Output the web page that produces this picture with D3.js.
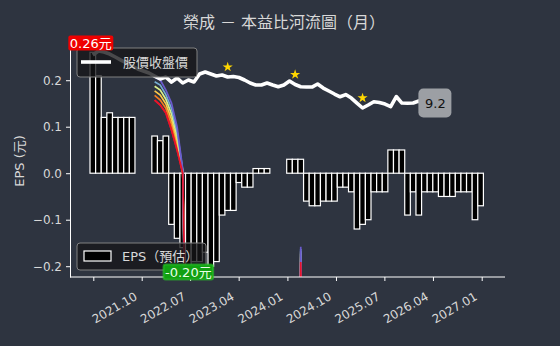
<!DOCTYPE html>
<html><head><meta charset="utf-8">
<script src="https://cdn.jsdelivr.net/npm/d3@7"></script>
<style>html,body{margin:0;padding:0;background:#2e3440;} svg{display:block}</style>
</head><body><svg id="c" width="560" height="346" lang="zh-TW"></svg>
<script>
// ---------- data ----------
const title = "榮成 － 本益比河流圖（月）";
const epsLabel = "EPS (元)";
const legendPrice = "股價收盤價";
const legendEps = "EPS（預估）";
const eps = [0.26,0.21,0.12,0.13,0.12,0.12,0.12,0.12,0,0,
             0,0.08,0.07,0.08,-0.11,-0.14,-0.16,-0.20,-0.19,-0.19,
             -0.17,-0.20,-0.19,-0.09,-0.08,-0.08,-0.02,-0.03,-0.03,0.01,
             0.01,0.01,0,0,0,0.03,0.03,0.03,-0.06,-0.07,
             -0.07,-0.06,-0.06,-0.06,-0.03,-0.03,-0.04,-0.12,-0.11,-0.10,
             -0.04,-0.04,-0.04,0.05,0.05,0.05,-0.09,-0.04,-0.09,-0.04,
             -0.04,-0.04,-0.05,-0.05,-0.05,-0.04,-0.04,-0.04,-0.10,-0.07];
const price = [15.58,16.11,15.98,15.71,15.32,14.92,14.53,14.13,13.74,13.47,
               13.21,12.81,12.42,12.68,12.02,12.55,11.89,12.29,12.02,13.08,
               13.34,13.08,12.81,12.95,12.68,12.75,12.62,12.29,11.89,11.63,
               11.63,11.89,11.63,11.40,11.63,12.15,11.69,11.40,11.36,11.36,
               11.76,11.23,10.84,10.44,10.08,10.37,9.91,9.25,8.60,8.99,
               9.43,9.32,9.12,8.79,10.11,9.25,9.22,9.25,9.52,9.20];
const lastPriceLabel = "9.2";
const starIdx = [24, 36, 48];
const maxLabel = "0.26元", minLabel = "-0.20元";
const maxIdx = 0, minIdx = 17;
// river lines (bottom -> top), two visible segments
const riverColors = ["#e8142a","#f57c20","#fdc94a","#d9ef8b","#74add1","#6a5acd"];
const riverSegIdx = [[11,12,13,14,15,16,17],[36,37,38]];
const riverVals = [
  [[9.65,8.99,7.94,5.70,3.06,0.00,-40],[-60,-11.7,-60]],
  [[10.26,9.65,8.55,6.41,3.67,0.10,-42],[-62,-11.1,-62]],
  [[10.86,10.31,9.15,7.12,4.27,0.20,-45],[-64,-10.6,-64]],
  [[11.47,10.97,9.76,7.83,4.88,0.30,-48],[-66,-10.3,-66]],
  [[12.07,11.63,10.36,8.54,5.48,0.40,-50],[-68,-10.0,-68]],
  [[12.68,12.29,10.97,9.25,6.09,0.50,-53],[-70,-9.7,-70]]
];
const yTicks = [-0.2,-0.1,0.0,0.1,0.2];
const xTickDates = ["2021-01-01","2021-10-01","2022-07-01","2023-04-01","2024-01-01","2024-10-01","2025-07-01","2026-04-01","2027-01-01"];
const xTickLabels = ["","2021.10","2022.07","2023.04","2024.01","2024.10","2025.07","2026.04","2027.01"];

// ---------- layout ----------
const svg = d3.select("#c");
const L = 70, R = 505, T = 38, B = 277;
const textCol = "#d8d8d8";
const font = "'DejaVu Sans','Noto Sans CJK TC',sans-serif";

const y = d3.scaleLinear().domain([-0.2232, 0.2908]).range([B, T]);
const k = 61.3;
const yP = d3.scaleLinear().domain(y.domain().map(d => d * k)).range([B, T]);
const xBar = d3.scaleBand().domain(d3.range(eps.length)).range([90, 483.4]).padding(0);
const xT = d3.scaleTime().domain([new Date(2021,0,1), new Date(2027,0,1)]).range([93.3, 481.7]);
const cx = i => xBar(i) + xBar.bandwidth()/2;

svg.append("defs").append("clipPath").attr("id","clip")
  .append("rect").attr("x",L).attr("y",T-10).attr("width",R-L).attr("height",B-T+10);

// title
svg.append("text").attr("x",284).attr("y",28).attr("text-anchor","middle")
  .attr("fill",textCol).style("font-family",font).style("font-size","16px").text(title);

// y label
svg.append("text").attr("transform","translate(24,161) rotate(-90)").attr("text-anchor","middle")
  .attr("fill",textCol).style("font-family",font).style("font-size","13px").text(epsLabel);

// bars
const plot = svg.append("g").attr("clip-path","url(#clip)");
plot.selectAll("rect.bar").data(eps).join("rect").attr("class","bar")
  .attr("x",(d,i)=>xBar(i)).attr("width",xBar.bandwidth())
  .attr("y",d=>y(Math.max(0,d))).attr("height",d=>Math.abs(y(d)-y(0)))
  .attr("fill","#000").attr("stroke","#fff").attr("stroke-width",1.2);

// river
riverVals.forEach((segs, li) => {
  segs.forEach((vals, si) => {
    const pts = riverSegIdx[si].map((idx, j) => [cx(idx), yP(vals[j])]);
    plot.append("path").attr("d", d3.line()(pts)).attr("fill","none")
      .attr("stroke", riverColors[li]).attr("stroke-width",1.7);
  });
});
riverVals[0].forEach((vals, si) => {
  const pts = riverSegIdx[si].map((idx, j) => [cx(idx), yP(vals[j])]);
  plot.append("path").attr("d", d3.line()(pts)).attr("fill","none")
    .attr("stroke", riverColors[0]).attr("stroke-width",1.7);
});

// price line
const pLine = d3.line().x((d,i)=>cx(i)).y(d=>yP(d));
svg.append("path").datum(price).attr("d",pLine).attr("fill","none")
  .attr("stroke","#fff").attr("stroke-width",3.6).attr("stroke-linejoin","round");

// stars
svg.selectAll("path.star").data(starIdx).join("path").attr("class","star")
  .attr("d", d3.symbol(d3.symbolStar).size(32))
  .attr("transform", i => `translate(${cx(i)},${yP(price[i]) - 10})`)
  .attr("fill","#ffd700");

// axes
const yAxis = svg.append("g").attr("transform",`translate(${L},0)`)
  .call(d3.axisLeft(y).tickValues(yTicks).tickFormat(d3.format(".1f")).tickSize(4).tickSizeOuter(0));
yAxis.select(".domain").attr("stroke","#fff");
yAxis.selectAll(".tick line").attr("stroke","#fff");
yAxis.selectAll("text").attr("fill",textCol).style("font-family",font).style("font-size","12px").attr("x",-8);

const xAxis = svg.append("g").attr("transform",`translate(0,${B})`)
  .call(d3.axisBottom(xT).tickValues(xTickDates.map(s=>new Date(s+"T00:00:00"))).tickFormat((d,i)=>xTickLabels[i]).tickSize(4).tickSizeOuter(0));
xAxis.select(".domain").attr("d",`M${L},0H${R}`).attr("stroke","#fff");
xAxis.selectAll(".tick line").attr("stroke","#fff");
xAxis.selectAll("text").attr("fill",textCol).style("font-family",font).style("font-size","12px")
  .attr("text-anchor","end").attr("y",0).attr("dy",0)
  .attr("transform","translate(-4,22) rotate(-30)");

// legend 1
const lg1 = svg.append("g");
lg1.append("rect").attr("x",77).attr("y",48).attr("width",120).attr("height",29).attr("rx",3)
  .attr("fill","rgba(22,22,24,0.78)").attr("stroke","#808080").attr("stroke-width",1);
lg1.append("line").attr("x1",81).attr("x2",111).attr("y1",62).attr("y2",62).attr("stroke","#fff").attr("stroke-width",3.6);
lg1.append("text").attr("x",123).attr("y",67).attr("fill",textCol).style("font-family",font).style("font-size","13px").text(legendPrice);

// legend 2
const lg2 = svg.append("g");
lg2.append("rect").attr("x",77).attr("y",243).attr("width",129).attr("height",27).attr("rx",3)
  .attr("fill","rgba(22,22,24,0.78)").attr("stroke","#808080").attr("stroke-width",1);
lg2.append("rect").attr("x",84).attr("y",251).attr("width",27).attr("height",10).attr("fill","#000").attr("stroke","#fff").attr("stroke-width",1.2);
lg2.append("text").attr("x",122).attr("y",261).attr("fill",textCol).style("font-family",font).style("font-size","13px").text(legendEps);

// max / min labels
function tag(txt, x0, yc, bg, fg, glow){
  const g = svg.append("g");
  const t = g.append("text").attr("x",x0).attr("y",yc+4.5).attr("text-anchor","middle")
    .attr("fill",fg).style("font-family",font).style("font-size","13px").text(txt);
  const bb = t.node().getBBox();
  g.insert("rect","text").attr("x",bb.x-1.5).attr("y",yc-7.5).attr("width",bb.width+3).attr("height",15)
    .attr("rx",2).attr("fill",bg).attr("stroke",glow||"none").attr("stroke-width",glow?2:0);
}
tag(maxLabel, cx(maxIdx)-2, 43, "#ee0000", "#ffffff");
tag(minLabel, cx(minIdx), 272, "#12a012", "#e8ffe8", "rgba(40,200,40,0.6)");

// last price label
const lx = cx(price.length-1), ly = yP(price[price.length-1]);
svg.append("rect").attr("x",lx-6).attr("y",ly-15).attr("width",33).attr("height",29).attr("rx",5)
  .attr("fill","#9c9fa4");
svg.append("text").attr("x",lx+11).attr("y",ly+4.5).attr("text-anchor","middle")
  .attr("fill","#111").style("font-family",font).style("font-size","13px").text(lastPriceLabel);
</script></body></html>
